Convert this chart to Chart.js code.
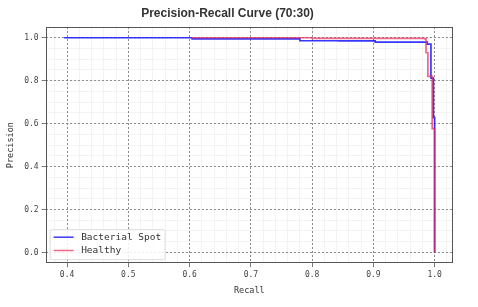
<!DOCTYPE html>
<html lang="en">
<head>
  <meta charset="UTF-8">
  <title>Precision-Recall Curve (70:30)</title>
  <style>
    body { margin: 0; background: #fff; }
    .chart-box { width: 478px; height: 307px; }
  </style>
</head>
<body>
  <div class="chart-box"><canvas id="prChart"></canvas></div>

  <script src="https://cdn.jsdelivr.net/npm/chart.js"></script>
  <script>
    // Bacterial Spot curve (recall, precision)
    const spotRecall    = [0.395, 0.604, 0.780, 0.843, 0.903, 0.988, 0.994, 0.998, 1.000];
    const spotPrecision = [1.000, 0.995, 0.986, 0.985, 0.980, 0.970, 0.812, 0.628, 0.000];

    // Healthy curve
    const healthyRecall    = [0.602, 0.800, 0.984, 0.986, 0.989, 0.996, 1.000];
    const healthyPrecision = [1.000, 0.997, 0.995, 0.930, 0.820, 0.577, 0.000];

    // axis ticks
    const xTicks = [0.4, 0.5, 0.6, 0.7, 0.8, 0.9, 1.0];
    const yTicks = [0.0, 0.2, 0.4, 0.6, 0.8, 1.0];
    const xMinor = [0.38, 0.40, 0.42, 0.44, 0.46, 0.48, 0.50, 0.52, 0.54, 0.56, 0.58, 0.60,
                    0.62, 0.64, 0.66, 0.68, 0.70, 0.72, 0.74, 0.76, 0.78, 0.80, 0.82, 0.84,
                    0.86, 0.88, 0.90, 0.92, 0.94, 0.96, 0.98, 1.00, 1.02];
    const yMinor = [0.00, 0.05, 0.10, 0.15, 0.20, 0.25, 0.30, 0.35, 0.40, 0.45, 0.50,
                    0.55, 0.60, 0.65, 0.70, 0.75, 0.80, 0.85, 0.90, 0.95, 1.00];

    const mono = 'DejaVu Sans Mono';

    const toPoints = (xs, ys) => xs.map((x, i) => ({ x: x, y: ys[i] }));

    // legend box in the lower left of the plot
    const legendBox = {
      id: 'legendBox',
      afterDraw(chart) {
        const c = chart.ctx;
        const area = chart.chartArea;
        const sets = chart.data.datasets;
        const w = 115, h = 30;
        const x = area.left + 4, y = area.bottom - 4 - h;
        c.save();
        c.fillStyle = 'rgba(255,255,255,0.85)';
        c.strokeStyle = '#dddddd';
        c.lineWidth = 1;
        c.beginPath();
        c.roundRect(x + 0.5, y + 0.5, w, h, 2);
        c.fill();
        c.stroke();
        c.font = '9.5px "' + mono + '"';
        c.textBaseline = 'middle';
        sets.forEach((ds, i) => {
          const rowY = y + 8 + i * 13.3;
          c.strokeStyle = ds.borderColor;
          c.lineWidth = 1.5;
          c.beginPath();
          c.moveTo(x + 4, rowY);
          c.lineTo(x + 24, rowY);
          c.stroke();
          c.fillStyle = '#333';
          c.fillText(ds.label, x + 31.5, rowY);
        });
        c.restore();
      }
    };

    // frame around the plot area
    const frame = {
      id: 'frame',
      afterDatasetsDraw(chart) {
        const c = chart.ctx;
        const a = chart.chartArea;
        c.save();
        c.strokeStyle = '#555';
        c.lineWidth = 1;
        c.strokeRect(Math.round(a.left) + 0.5, Math.round(a.top) + 0.5,
                     Math.round(a.right - a.left) - 1, Math.round(a.bottom - a.top) - 1);
        c.restore();
      }
    };

    new Chart(document.getElementById('prChart'), {
      type: 'scatter',
      data: {
        datasets: [
          {
            label: 'Bacterial Spot',
            data: toPoints(spotRecall, spotPrecision),
            borderColor: 'rgba(20, 20, 255, 0.85)',
            showLine: true,
            stepped: true,
            borderWidth: 1.7,
            pointRadius: 0,
            order: 1
          },
          {
            label: 'Healthy',
            data: toPoints(healthyRecall, healthyPrecision),
            borderColor: 'rgba(230, 40, 85, 0.7)',
            showLine: true,
            stepped: true,
            borderWidth: 1.7,
            pointRadius: 0,
            order: 0
          }
        ]
      },
      options: {
        responsive: true,
        maintainAspectRatio: false,
        animation: false,
        layout: { padding: { left: 2, right: 25, top: 0, bottom: 7 } },
        plugins: {
          legend: { display: false },
          tooltip: { enabled: false },
          title: {
            display: true,
            text: 'Precision-Recall Curve (70:30)',
            color: '#333',
            font: { family: 'Liberation Sans', size: 12, weight: 'bold' },
            padding: { top: 6.5, bottom: 6.1 }
          }
        },
        scales: {
          x: {
            type: 'linear',
            position: 'bottom',
            min: 0.365,
            max: 1.03,
            afterBuildTicks: s => { s.ticks = xTicks.map(v => ({ value: v })); },
            ticks: {
              callback: v => v.toFixed(1),
              color: '#444',
              font: { family: mono, size: 8 },
              padding: 3,
              maxRotation: 0,
              autoSkip: false
            },
            grid: { color: '#777', lineWidth: 0.8, tickLength: 4, tickColor: '#555' },
            border: { display: false, dash: [2, 2] },
            title: {
              display: true,
              text: 'Recall',
              color: '#333',
              font: { family: mono, size: 8.5 },
              padding: { top: 3, bottom: 4 }
            }
          },
          xMinor: {
            type: 'linear',
            position: 'bottom',
            min: 0.365,
            max: 1.03,
            afterBuildTicks: s => { s.ticks = xMinor.map(v => ({ value: v })); },
            ticks: { display: false },
            grid: { color: '#ebebeb', lineWidth: 0.6, drawTicks: false, z: -2 },
            border: { display: false }
          },
          y: {
            type: 'linear',
            position: 'left',
            min: -0.05,
            max: 1.05,
            afterBuildTicks: s => { s.ticks = yTicks.map(v => ({ value: v })); },
            ticks: {
              callback: v => v.toFixed(1),
              color: '#444',
              font: { family: mono, size: 8 },
              padding: 3
            },
            grid: { color: '#777', lineWidth: 0.8, tickLength: 4, tickColor: '#555' },
            border: { display: false, dash: [2, 2] },
            title: {
              display: true,
              text: 'Precision',
              color: '#333',
              font: { family: mono, size: 8.5 },
              padding: { top: 4, bottom: 5 }
            }
          },
          yMinor: {
            type: 'linear',
            position: 'left',
            min: -0.05,
            max: 1.05,
            afterBuildTicks: s => { s.ticks = yMinor.map(v => ({ value: v })); },
            ticks: { display: false },
            grid: { color: '#ebebeb', lineWidth: 0.6, drawTicks: false, z: -2 },
            border: { display: false }
          }
        }
      },
      plugins: [frame, legendBox]
    });
  </script>
</body>
</html>
